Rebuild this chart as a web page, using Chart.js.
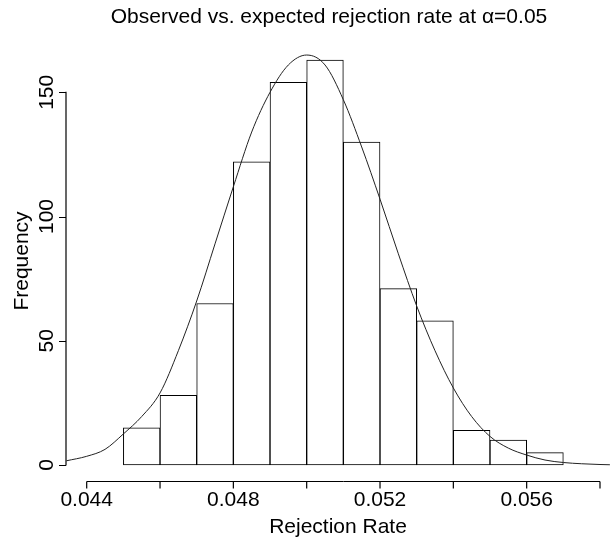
<!DOCTYPE html>
<html>
<head>
<meta charset="utf-8">
<script src="https://cdn.jsdelivr.net/npm/chart.js@4.4.0/dist/chart.umd.min.js"></script>
<style>
  html, body { margin: 0; padding: 0; background: #fff; }
  #wrap { width: 610px; height: 538px; }
</style>
</head>
<body>
<div id="wrap"><canvas id="chart" width="610" height="538"></canvas></div>
<script>
// histogram bins (centre of each 0.001 wide bin) and counts
const binCenters = [0.0455, 0.0465, 0.0475, 0.0485, 0.0495, 0.0505, 0.0515, 0.0525, 0.0535, 0.0545, 0.0555, 0.0565];
const counts = [15, 28, 65, 122, 154, 163, 130, 71, 58, 14, 10, 5];

// expected (normal) curve
const curveX = [0.04345, 0.0440, 0.0445, 0.0450, 0.0455, 0.0460, 0.0465, 0.0470, 0.0475, 0.0480, 0.0485, 0.0490, 0.0495,
                0.0500, 0.0505, 0.0510, 0.0515, 0.0520, 0.0525, 0.0530, 0.0535, 0.0540, 0.0545, 0.0550, 0.0555,
                0.0560, 0.0565, 0.0570, 0.0575, 0.0580, 0.05827];
const curveY = [1.7, 3.5, 6.3, 12.5, 19.5, 29, 46, 66, 89, 112, 134, 150, 161,
                165, 161, 147, 128, 107, 85, 64, 46, 31, 19.5, 11.5, 6.8,
                4, 2.0, 1.0, 0.5, 0.2, 0.1];

const xTicks = [0.044, 0.046, 0.048, 0.050, 0.052, 0.054, 0.056, 0.058];
const xLabels = [0.044, 0.048, 0.052, 0.056];
const yTicks = [0, 50, 100, 150];

const titleText = "Observed vs. expected rejection rate at \u03B1=0.05";
const xTitle = "Rejection Rate";
const yTitle = "Frequency";

const FONT = '"Liberation Sans", Arial, sans-serif';

// R style axes drawn by hand, positions taken from the chart scales
const rAxes = {
  id: 'rAxes',
  afterDraw(chart) {
    const ctx = chart.ctx;
    const xs = chart.scales.x, ys = chart.scales.y;
    const area = chart.chartArea;
    ctx.save();
    ctx.strokeStyle = '#000';
    ctx.fillStyle = '#000';
    ctx.lineWidth = 1.2;

    // y axis
    const ax = area.left;
    ctx.beginPath();
    ctx.moveTo(ax, ys.getPixelForValue(yTicks[0]) + 0.6);
    ctx.lineTo(ax, ys.getPixelForValue(yTicks[yTicks.length - 1]) - 0.6);
    ctx.stroke();
    ctx.lineWidth = 1;
    ctx.beginPath();
    yTicks.forEach(v => {
      const py = Math.round(ys.getPixelForValue(v)) + 0.5;
      ctx.moveTo(ax, py);
      ctx.lineTo(ax - 7, py);
    });
    ctx.stroke();
    ctx.font = '21px ' + FONT;
    ctx.textAlign = 'center';
    ctx.textBaseline = 'alphabetic';
    yTicks.forEach(v => {
      ctx.save();
      ctx.translate(53, ys.getPixelForValue(v));
      ctx.rotate(-Math.PI / 2);
      ctx.fillText(String(v), 0, 0);
      ctx.restore();
    });

    // x axis
    const ay = Math.round(area.bottom) - 0.5;
    ctx.beginPath();
    ctx.moveTo(xs.getPixelForValue(xTicks[0]), ay);
    ctx.lineTo(xs.getPixelForValue(xTicks[xTicks.length - 1]), ay);
    ctx.stroke();
    ctx.lineWidth = 1.2;
    ctx.beginPath();
    xTicks.forEach(v => {
      const px = xs.getPixelForValue(v);
      ctx.moveTo(px, ay);
      ctx.lineTo(px, ay + 7);
    });
    ctx.stroke();
    xLabels.forEach(v => {
      ctx.fillText(v.toFixed(3), xs.getPixelForValue(v), 506);
    });

    // titles
    ctx.fillText(xTitle, 338, 533);
    ctx.save();
    ctx.translate(28, 261);
    ctx.rotate(-Math.PI / 2);
    ctx.fillText(yTitle, 0, 0);
    ctx.restore();
    ctx.fillText(titleText, 329, 23);
    ctx.restore();
  }
};

new Chart(document.getElementById('chart'), {
  type: 'bar',
  data: {
    datasets: [
      {
        type: 'line',
        label: 'expected',
        data: curveX.map((x, i) => ({ x: x, y: curveY[i] })),
        borderColor: '#222',
        borderWidth: 1,
        pointRadius: 0,
        fill: false,
        cubicInterpolationMode: 'monotone',
        order: 0
      },
      {
        type: 'bar',
        label: 'observed',
        data: binCenters.map((x, i) => ({ x: x, y: counts[i] })),
        backgroundColor: '#fff',
        borderColor: '#000',
        borderWidth: 1,
        borderSkipped: false,
        barPercentage: 1,
        categoryPercentage: 1,
        order: 1
      }
    ]
  },
  options: {
    responsive: false,
    animation: false,
    layout: { padding: { left: 66, right: 0, top: 38, bottom: 56 } },
    plugins: { legend: { display: false }, tooltip: { enabled: false }, title: { display: false } },
    scales: {
      x: { type: 'linear', offset: false, min: 0.0434354, max: 0.0582727, display: false },
      y: { type: 'linear', min: -6.842, max: 171.85, display: false }
    }
  },
  plugins: [rAxes]
});
</script>
</body>
</html>
